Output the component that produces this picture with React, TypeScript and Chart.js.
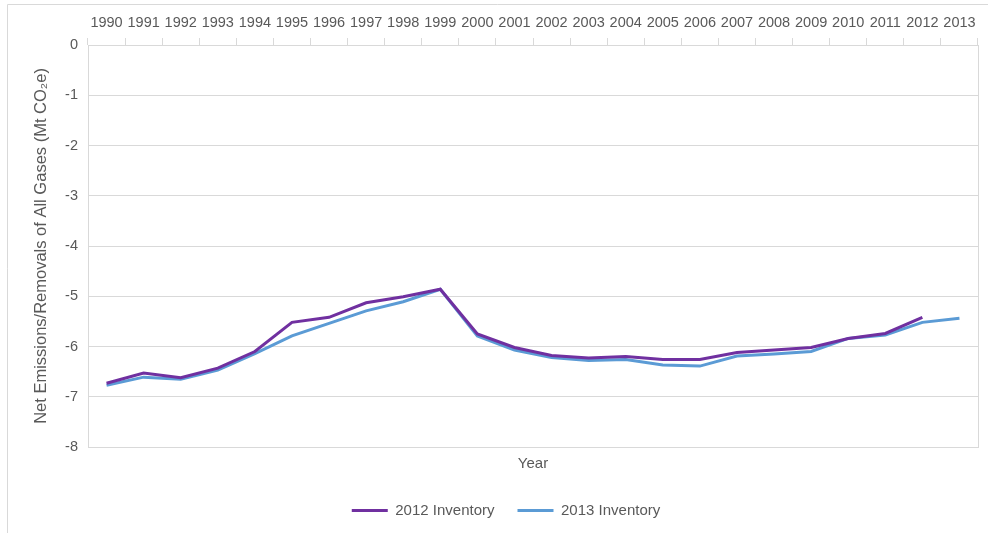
import React, { useEffect, useRef } from "react";
import { Chart, registerables } from "chart.js";

Chart.register(...registerables);

const years = ["1990","1991","1992","1993","1994","1995","1996","1997","1998","1999","2000","2001","2002","2003","2004","2005","2006","2007","2008","2009","2010","2011","2012","2013"];
const inventory2012 = [-6.73,-6.53,-6.62,-6.43,-6.10,-5.52,-5.42,-5.13,-5.01,-4.86,-5.75,-6.02,-6.18,-6.23,-6.20,-6.26,-6.26,-6.12,-6.07,-6.02,-5.84,-5.74,-5.42,null];
const inventory2013 = [-6.77,-6.61,-6.65,-6.47,-6.14,-5.79,-5.54,-5.29,-5.11,-4.86,-5.79,-6.07,-6.22,-6.28,-6.26,-6.37,-6.39,-6.19,-6.15,-6.10,-5.84,-5.77,-5.52,-5.44];
const seriesNames = ["2012 Inventory", "2013 Inventory"];
const seriesColors = ["#7030A0", "#5B9BD5"];
const yTitle = "Net Emissions/Removals of All Gases (Mt CO\u2082e)";
const xTitle = "Year";

const FONT = "'Liberation Sans', Arial, sans-serif";
const TEXT = "#595959";
const GRID = "#d9d9d9";

const bordersPlugin = {
  id: "borders",
  beforeDraw(chart: any) {
    const ctx = chart.ctx;
    ctx.save();
    ctx.strokeStyle = GRID;
    ctx.lineWidth = 1;
    ctx.beginPath();
    ctx.moveTo(7.5, 533);
    ctx.lineTo(7.5, 4.5);
    ctx.lineTo(988, 4.5);
    ctx.stroke();
    ctx.restore();
  },
  beforeDatasetsDraw(chart: any) {
    const { ctx, chartArea } = chart;
    ctx.save();
    ctx.strokeStyle = GRID;
    ctx.lineWidth = 1;
    ctx.strokeRect(
      Math.round(chartArea.left) + 0.5,
      Math.round(chartArea.top) + 0.5,
      Math.round(chartArea.right - chartArea.left),
      Math.round(chartArea.bottom - chartArea.top)
    );
    ctx.restore();
  },
};

export default function App() {
  const ref = useRef<HTMLCanvasElement | null>(null);
  useEffect(() => {
    if (!ref.current) return;
    const chart = new Chart(ref.current, {
      type: "line",
      data: {
        labels: years,
        datasets: [
          {
            label: seriesNames[0],
            data: inventory2012,
            borderColor: seriesColors[0],
            backgroundColor: seriesColors[0],
            borderWidth: 3,
            pointRadius: 0,
            tension: 0,
            spanGaps: false,
          },
          {
            label: seriesNames[1],
            data: inventory2013,
            borderColor: seriesColors[1],
            backgroundColor: seriesColors[1],
            borderWidth: 3,
            pointRadius: 0,
            tension: 0,
          },
        ],
      },
      options: {
        animation: false,
        responsive: false,
        devicePixelRatio: 1,
        layout: { padding: { left: 34, top: 4, right: 10, bottom: 5 } },
        plugins: {
          tooltip: { enabled: false },
          legend: {
            position: "bottom",
            labels: {
              color: TEXT,
              font: { family: FONT, size: 15 },
              boxWidth: 36,
              boxHeight: 3,
              padding: 23,
              generateLabels: (c: any) =>
                c.data.datasets.map((d: any, i: number) => ({
                  text: d.label,
                  fillStyle: d.borderColor,
                  strokeStyle: d.borderColor,
                  lineWidth: 0,
                  fontColor: TEXT,
                  hidden: false,
                  datasetIndex: i,
                })),
            },
          },
        },
        scales: {
          x: {
            type: "category",
            position: "top",
            offset: true,
            grid: {
              offset: true,
              drawOnChartArea: false,
              drawTicks: true,
              tickLength: 7,
              color: GRID,
            },
            border: { display: true, color: GRID },
            ticks: {
              color: TEXT,
              font: { family: FONT, size: 14.5 },
              maxRotation: 0,
              autoSkip: false,
              padding: 6,
            },
            afterFit: (s: any) => {
              s.height = 41;
            },
          },
          x2: {
            type: "category",
            position: "bottom",
            labels: years,
            grid: { display: false },
            border: { display: false },
            ticks: { display: false },
            title: {
              display: true,
              text: xTitle,
              color: TEXT,
              font: { family: FONT, size: 15 },
              padding: { top: 0, bottom: 7 },
            },
            afterFit: (s: any) => {
              s.height = 33;
            },
          },
          y: {
            min: -8,
            max: 0,
            ticks: {
              stepSize: 1,
              color: TEXT,
              font: { family: FONT, size: 14.5 },
              padding: 10,
            },
            grid: { color: GRID, drawTicks: false },
            border: { display: false },
            title: {
              display: true,
              text: yTitle,
              color: TEXT,
              font: { family: FONT, size: 16.5 },
              padding: { top: -2, bottom: 0 },
            },
            afterFit: (s: any) => {
              s.width = 54;
            },
          },
        },
      },
      plugins: [bordersPlugin],
    } as any);
    return () => chart.destroy();
  }, []);
  return (
    <div style={{ position: "absolute", left: 0, top: 0, width: 988, height: 533, background: "#fff" }}>
      <canvas ref={ref} width={988} height={533} style={{ display: "block", width: 988, height: 533 }} />
    </div>
  );
}
